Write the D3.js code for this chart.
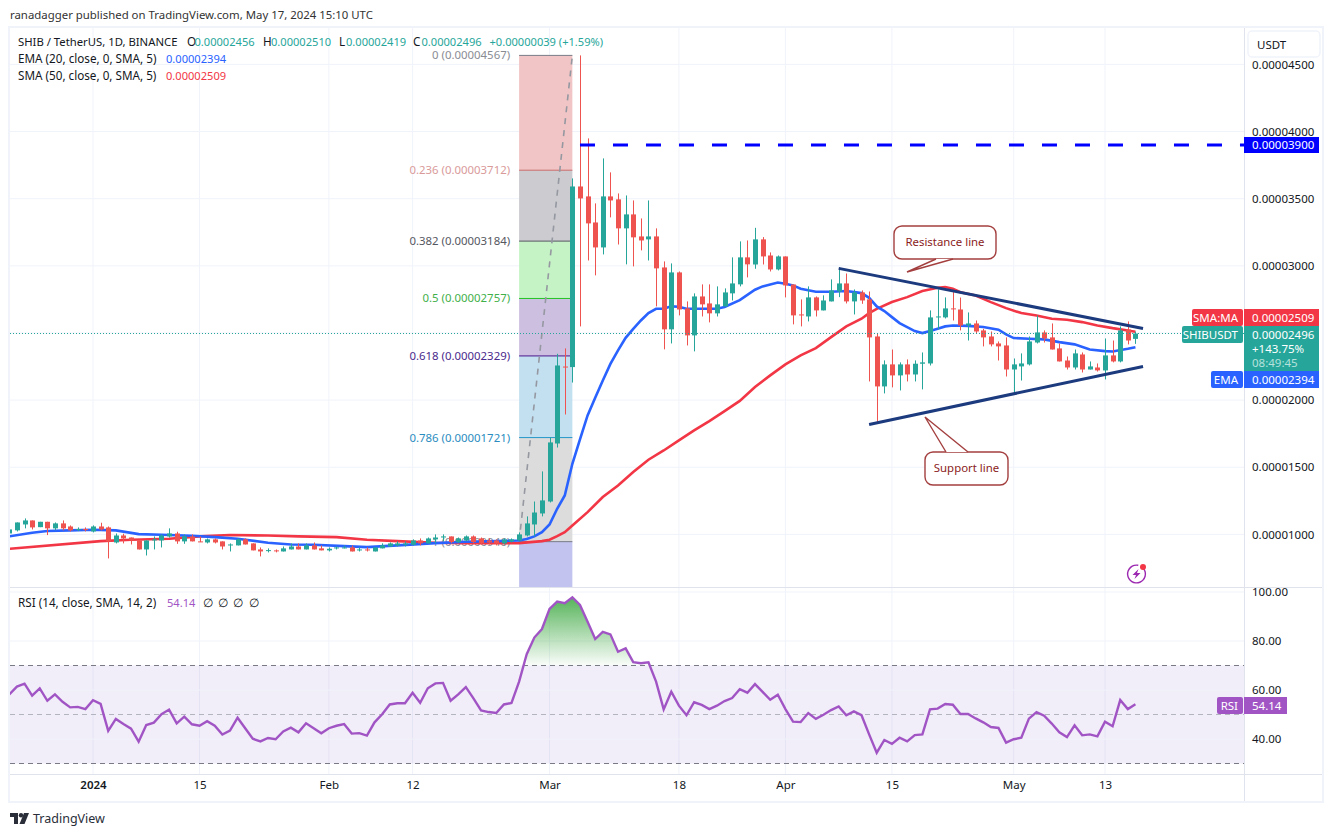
<!DOCTYPE html>
<html>
<head>
<meta charset="utf-8">
<title>SHIB / TetherUS</title>
<script src="https://cdn.jsdelivr.net/npm/d3@7.9.0/dist/d3.min.js"></script>
<style>
  html, body { margin: 0; padding: 0; background: #fff; }
  svg { display: block; }
  text { font-family: "Noto Sans", sans-serif; font-size: 11.4px; fill: #131722; }
</style>
</head>
<body>
<svg id="chart" width="1334" height="837"></svg>
<script>
// prices are in units of 0.00000001 USDT, one candle per day from 2023-12-21
const opens = [
  1007,1030,1074,1104,1054,1094,1045,1082,1059,1032,
  1040,1022,1059,1052,940,992,977,955,888,955,
  955,985,1007,948,985,948,940,963,948,918,
  918,963,933,888,876,881,873,888,910,888,
  918,896,881,896,896,903,881,888,873,896,
  910,918,923,923,955,933,963,977,985,943,
  955,985,970,955,955,933,948,955,992,1074,
  1156,1245,1677,2250,2246,3591,3517,3323,3137,3517,
  3495,3279,3383,3219,3197,3219,2988,2527,2951,2683,
  2482,2772,2720,2646,2698,2795,2862,3063,3010,3197,
  3077,2973,3070,2861,2638,2623,2765,2668,2735,2809,
  2869,2735,2802,2750,2474,2102,2266,2184,2266,2191,
  2271,2273,2616,2616,2683,2675,2556,2571,2519,2474,
  2422,2407,2228,2251,2266,2429,2504,2467,2385,2295,
  2243,2340,2228,2243,2221,2333,2288,2526,2456
];
const highs = [
  1042,1089,1119,1104,1094,1094,1089,1104,1067,1052,
  1052,1067,1087,1059,1007,1005,977,955,955,985,
  1000,1045,1020,1000,1000,985,970,970,948,933,
  970,970,933,903,896,888,910,933,933,933,
  940,918,903,910,918,918,903,903,903,933,
  940,948,948,963,970,977,1000,1000,985,977,
  992,992,977,970,963,970,970,1015,1134,1245,
  1469,1722,2345,2385,3651,4567,3949,3465,3800,3696,
  3539,3524,3487,3353,3487,3279,3033,3018,2958,2735,
  2795,2862,2862,2847,2832,3063,3182,3189,3283,3214,
  3100,3077,3070,2861,2750,2847,2772,2780,2899,2988,
  2943,2824,2817,2809,2494,2296,2377,2281,2303,2296,
  2355,2668,2824,2765,2804,2764,2653,2593,2531,2511,
  2437,2467,2310,2348,2474,2630,2519,2571,2422,2325,
  2377,2355,2288,2273,2459,2444,2549,2586,2510
];
const lows = [
  1005,1022,1045,1037,1054,995,1030,1030,1022,1025,
  1022,1015,1030,821,933,933,925,888,843,888,
  903,977,930,930,948,943,933,933,888,873,
  918,925,881,836,866,866,873,888,888,888,
  888,881,873,888,896,873,873,873,873,896,
  910,910,910,918,918,933,933,948,935,935,
  950,935,925,925,918,925,940,950,985,985,
  1134,1238,1647,1893,2131,2549,3040,2929,3085,3361,
  3159,3011,2996,3115,3040,2698,2378,2422,2631,2407,
  2363,2623,2579,2623,2698,2742,2847,2914,2978,3010,
  2958,2966,2765,2564,2549,2586,2623,2668,2735,2767,
  2720,2638,2717,2139,1829,2050,2095,2072,2139,2139,
  2080,2258,2526,2608,2593,2519,2444,2494,2400,2400,
  2295,2176,2047,2146,2258,2422,2429,2377,2288,2228,
  2228,2206,2228,2213,2154,2281,2281,2415,2419
];
const closes = [
  1037,1089,1104,1052,1094,1045,1082,1045,1030,1040,
  1032,1059,1037,948,992,970,955,888,955,963,
  992,1007,948,985,948,943,963,940,910,925,
  963,925,881,873,883,876,896,910,888,918,
  888,881,893,903,903,873,888,883,903,918,
  933,933,933,955,933,970,977,985,943,970,
  985,943,935,940,933,963,963,1000,1082,1163,
  1253,1685,2258,2243,3591,3502,3316,3137,3517,3487,
  3279,3383,3212,3189,3219,2981,2527,2951,2675,2482,
  2772,2713,2646,2713,2802,2869,3063,3011,3197,3070,
  2973,3070,2854,2631,2631,2765,2668,2742,2817,2869,
  2735,2802,2742,2467,2102,2266,2184,2266,2191,2271,
  2281,2616,2623,2683,2678,2556,2571,2511,2467,2415,
  2400,2228,2266,2273,2437,2504,2459,2377,2288,2243,
  2348,2228,2251,2221,2333,2288,2519,2444,2496
];
const rsiValues = [
  58.2,61.4,62.6,57.7,60.7,55.6,58.2,55.2,52.9,53.1,
  52.2,55.8,54.3,43.3,48.2,46.1,44.2,38.9,45.7,46.7,
  50.1,52,46.4,49.1,46,45.4,47.3,45.4,41.8,43.4,
  48.7,44.4,40.1,39,40.4,39.9,43.1,44.6,42.7,46.4,
  44.4,42.3,44.4,45.4,46.1,42.2,42.4,41.4,46.8,50.1,
  54.1,54.6,54.6,58.9,54.8,60.7,62.7,62.9,55.6,58.2,
  61.2,56.6,51.7,51,50.6,54.1,54.7,63.4,74.6,81.4,
  84.9,93.1,96.1,95.4,97.8,94.7,87.9,80.8,83.7,82.7,
  75.6,77,71.4,70.9,71.3,63.4,52.1,59.3,53.6,49.7,
  55,53.9,52.2,53.6,55.5,56.7,60.3,58.9,62.4,59.2,
  56,58.1,52.2,47.1,46.9,50.6,48.2,49.9,51.8,53.3,
  49.7,51.3,49.7,41.9,34.4,39.6,38,40.5,39,41.6,
  41.9,52.1,52.4,54.3,54,50.2,50.2,48.4,46.8,44.9,
  44.5,38.5,39.9,40.5,48.3,51,49.5,46.3,42.7,40.8,
  45.6,41.5,41.9,41.1,47.1,45.2,55.9,52.2,54.14
];

// moving averages, read at selected days (offset in days from 2024-01-01)
const emaDays = [-11,-8,-6,-3,0,3,6,9,13,16,19,23,26,29,33,36,40,45,49,53,56,57,58,59,60,61,62,63,64,65,66,67,68,69,70,71,72,73,74,75,76,77,78,79,82,83,85,87,88,90,91,92,93,95,97,99,101,102,103,104,105,106,107,108,109,110,111,112,113,115,117,119,120,121,123,125,127,129,131,133,134,136,137];
const emaValues = [985,1012,1025,1030,1035,1030,1002,997,990,980,968,938,925,923,913,905,918,935,945,950,955,965,985,1017,1074,1191,1290,1526,1707,1886,2017,2146,2270,2370,2464,2531,2593,2648,2680,2680,2698,2695,2680,2680,2680,2693,2745,2822,2847,2876,2866,2854,2829,2807,2807,2812,2797,2762,2698,2663,2618,2574,2544,2514,2499,2514,2531,2549,2556,2553,2544,2524,2489,2462,2457,2452,2432,2415,2377,2365,2362,2382,2394];
const smaDays = [-11,1,5,10,14,18,23,27,32,36,40,45,49,56,59,60,61,62,63,65,67,69,71,73,75,77,79,81,83,85,87,89,91,93,95,97,99,101,102,103,105,107,109,111,112,113,114,116,118,120,122,124,126,128,130,132,134,136,137];
const smaValues = [893,950,960,968,985,995,992,985,980,960,950,938,935,935,950,960,987,1017,1067,1166,1278,1364,1464,1556,1625,1700,1774,1844,1918,1994,2097,2184,2266,2333,2387,2469,2549,2606,2648,2680,2730,2767,2812,2837,2842,2829,2804,2779,2730,2685,2648,2630,2606,2598,2581,2556,2536,2519,2509];

// fib retracement drawn from the march low to the march high
const fibRatios = ['0', '0.236', '0.382', '0.5', '0.618', '0.786', '1'];
const fibPrices = [4567, 3712, 3184, 2757, 2329, 1721, 946];
const fibFills = ['#f1c5c5', '#cbcbd0', '#c5f3c5', '#cdbfe0', '#c3e0f0', '#dcdcdc', '#c2c3ef'];
const fibLines = ['#787b86', '#c96a6a', '#555861', '#22c322', '#4a148c', '#2196c8', '#787b86'];
const fibLabels = ['#8a8c94', '#d99a9a', '#55585f', '#3fb04a', '#4a2a8c', '#2a8cc0', '#8a8c94'];
const fibStart = '2024-02-26';
const fibEnd = '2024-03-04';

const priceTicks = [1000, 1500, 2000, 2500, 3000, 3500, 4000, 4500];
const rsiTicks = [100, 80, 60, 40];
const timeTicks = ['2024-01-01', '2024-01-15', '2024-02-01', '2024-02-12', '2024-03-01', '2024-03-18', '2024-04-01', '2024-04-15', '2024-05-01', '2024-05-13'];
const timeLabels = ['2024', '15', 'Feb', '12', 'Mar', '18', 'Apr', '15', 'May', '13'];

const resistanceLine = [['2024-04-08', 2981], ['2024-05-18', 2534]];
const supportLine = [['2024-04-12', 1819], ['2024-05-18', 2251]];
const resistanceLevel = 3900;
const lastClose = 2496;
const lastEma = 2394;
const lastSma = 2509;
const lastRsi = 54.14;

const parseDay = d3.utcParse('%Y-%m-%d');
const firstDay = parseDay('2024-01-01');
const candleDays = opens.map((_, i) => d3.utcDay.offset(firstDay, i - 11));
const fmtPrice = v => (v / 1e8).toFixed(8);

const UP = '#26a69a', DOWN = '#ef5350', BLUE = '#2962ff', RED = '#f23645', PURPLE = '#a155c5';
const GRID = '#f0f3fa', BORDER = '#e0e3eb';

const pane = { left: 10, right: 1244, top: 28, bottom: 587, rsiTop: 588, rsiBottom: 774, outerRight: 1323, outerBottom: 802 };

const x = d3.scaleUtc().domain([parseDay('2024-01-01'), parseDay('2024-05-13')]).range([93, 1105]);
const y = d3.scaleLinear().domain([1000, 4500]).range([534.4, 64.4]);
const yRsi = d3.scaleLinear().domain([100, 40]).range([592, 739]);

const svg = d3.select('#chart');

const defs = svg.append('defs');
defs.append('clipPath').attr('id', 'main-clip').append('rect')
  .attr('x', pane.left).attr('y', pane.top)
  .attr('width', pane.right - pane.left).attr('height', pane.bottom - pane.top);
defs.append('clipPath').attr('id', 'rsi-clip').append('rect')
  .attr('x', pane.left).attr('y', pane.rsiTop)
  .attr('width', pane.right - pane.left).attr('height', pane.rsiBottom - pane.rsiTop);
const grad = defs.append('linearGradient').attr('id', 'rsi-over')
  .attr('gradientUnits', 'userSpaceOnUse')
  .attr('x1', 0).attr('x2', 0).attr('y1', yRsi(98)).attr('y2', yRsi(70));
grad.append('stop').attr('offset', 0).attr('stop-color', '#4caf50').attr('stop-opacity', 0.95);
grad.append('stop').attr('offset', 1).attr('stop-color', '#4caf50').attr('stop-opacity', 0.03);

svg.append('text').attr('x', 10).attr('y', 19).style('fill', '#333').text('ranadagger published on TradingView.com, May 17, 2024 15:10 UTC');

// ---- grid ----
const grid = svg.append('g');
grid.selectAll('.vm').data(timeTicks).join('line')
  .attr('x1', d => x(parseDay(d))).attr('x2', d => x(parseDay(d)))
  .attr('y1', pane.top).attr('y2', pane.bottom).attr('stroke', GRID);
grid.selectAll('.vr').data(timeTicks).join('line')
  .attr('x1', d => x(parseDay(d))).attr('x2', d => x(parseDay(d)))
  .attr('y1', pane.rsiTop).attr('y2', pane.rsiBottom).attr('stroke', GRID);
grid.selectAll('.hm').data(priceTicks).join('line')
  .attr('x1', pane.left).attr('x2', pane.right)
  .attr('y1', d => y(d)).attr('y2', d => y(d)).attr('stroke', GRID);

// ---- main pane ----
const main = svg.append('g').attr('clip-path', 'url(#main-clip)');

// fib bands
const fibBands = fibPrices.map((p, i) => ({ top: y(p), bottom: i + 1 < fibPrices.length ? y(fibPrices[i + 1]) : pane.bottom, fill: fibFills[i] }));
const fx0 = x(parseDay(fibStart)), fx1 = x(parseDay(fibEnd));
main.selectAll('.fib').data(fibBands).join('rect')
  .attr('x', fx0).attr('width', fx1 - fx0)
  .attr('y', d => d.top).attr('height', d => d.bottom - d.top)
  .attr('fill', d => d.fill);
main.selectAll('.fibline').data(fibPrices).join('line')
  .attr('x1', fx0).attr('x2', fx1)
  .attr('y1', d => y(d)).attr('y2', d => y(d))
  .attr('stroke', (d, i) => fibLines[i]).attr('stroke-width', 1);
main.append('line')
  .attr('x1', fx0).attr('y1', y(fibPrices[6]))
  .attr('x2', fx1).attr('y2', y(fibPrices[0]))
  .attr('stroke', '#9598a1').attr('stroke-width', 1.6).attr('stroke-dasharray', '6 6');
main.selectAll('.fibtext').data(fibPrices).join('text')
  .attr('x', fx0 - 9).attr('y', d => y(d)).attr('dy', '0.35em')
  .attr('text-anchor', 'end')
  .style('fill', (d, i) => fibLabels[i])
  .text((d, i) => `${fibRatios[i]} (${fmtPrice(d)})`);

// moving averages
const dayLine = d3.line().x(d => x(d3.utcDay.offset(firstDay, d[0]))).y(d => y(d[1]));
main.append('path').attr('d', dayLine(d3.zip(smaDays, smaValues)))
  .attr('fill', 'none').attr('stroke', RED).attr('stroke-width', 2.6);
main.append('path').attr('d', dayLine(d3.zip(emaDays, emaValues)))
  .attr('fill', 'none').attr('stroke', BLUE).attr('stroke-width', 2.6);

// candles
const candles = candleDays.map((day, i) => ({ day, o: opens[i], h: highs[i], l: lows[i], c: closes[i] }));
const cg = main.append('g').selectAll('g').data(candles).join('g')
  .attr('fill', d => d.c >= d.o ? UP : DOWN);
cg.append('rect')
  .attr('x', d => Math.round(x(d.day))).attr('width', 1)
  .attr('y', d => y(d.h)).attr('height', d => y(d.l) - y(d.h));
cg.append('rect')
  .attr('x', d => Math.round(x(d.day)) - 2).attr('width', 5)
  .attr('y', d => y(Math.max(d.o, d.c)))
  .attr('height', d => Math.max(1, Math.abs(y(d.o) - y(d.c))));

// last price dotted line
main.append('line')
  .attr('x1', pane.left).attr('x2', pane.right)
  .attr('y1', y(lastClose)).attr('y2', y(lastClose))
  .attr('stroke', UP).attr('stroke-dasharray', '1 2');

// horizontal level
main.append('line')
  .attr('x1', x(parseDay('2024-03-05'))).attr('x2', pane.right)
  .attr('y1', y(resistanceLevel)).attr('y2', y(resistanceLevel))
  .attr('stroke', '#0000ff').attr('stroke-width', 3).attr('stroke-dasharray', '15 18');

// triangle
const isoLine = d3.line().x(d => x(parseDay(d[0]))).y(d => y(d[1]));
[resistanceLine, supportLine].forEach(l => {
  main.append('path').attr('d', isoLine(l))
    .attr('fill', 'none').attr('stroke', '#1c3a7e').attr('stroke-width', 3);
});

// callouts
function callout(text, bx, by, bw, bh, tail) {
  const g = svg.append('g');
  g.append('rect').attr('x', bx).attr('y', by).attr('width', bw).attr('height', bh)
    .attr('rx', 8).attr('fill', '#fff').attr('stroke', '#a43f3f').attr('stroke-width', 1.4);
  g.append('polygon').attr('points', tail.join(' ')).attr('fill', '#fff');
  g.append('polyline').attr('points', tail.join(' ')).attr('fill', 'none')
    .attr('stroke', '#a43f3f').attr('stroke-width', 1.4);
  g.append('text').attr('x', bx + bw / 2).attr('y', by + bh / 2).attr('dy', '0.35em')
    .attr('text-anchor', 'middle').style('fill', '#8a1c1c').text(text);
}
callout('Resistance line', 894, 226, 102, 33, [[936, 259], [907, 272], [953, 259]]);
callout('Support line', 925, 452, 83, 33, [[946, 452], [925, 417], [968, 452]]);

// lightning icon
const icon = svg.append('g').attr('transform', 'translate(1136.5,574)');
icon.append('path').attr('d', d3.arc()({ innerRadius: 8.2, outerRadius: 9.6, startAngle: 0.9, endAngle: Math.PI * 2 + 0.2 })).attr('fill', '#9c27b0');
icon.append('path').attr('d', 'M2,-5 L-4,1 L-0.5,1 L-2,5 L4,-1 L0.5,-1 Z').attr('fill', '#9c27b0');
icon.append('circle').attr('cx', 6.5).attr('cy', -7).attr('r', 3).attr('fill', RED);

// ---- RSI pane ----
const rsi = svg.append('g').attr('clip-path', 'url(#rsi-clip)');
rsi.append('rect')
  .attr('x', pane.left).attr('width', pane.right - pane.left)
  .attr('y', yRsi(70)).attr('height', yRsi(30) - yRsi(70))
  .attr('fill', '#7e57c2').attr('fill-opacity', 0.1);
rsi.selectAll('.hr').data(rsiTicks).join('line')
  .attr('x1', pane.left).attr('x2', pane.right)
  .attr('y1', d => yRsi(d)).attr('y2', d => yRsi(d)).attr('stroke', GRID);
rsi.selectAll('.band').data([70, 30]).join('line')
  .attr('x1', pane.left).attr('x2', pane.right)
  .attr('y1', d => yRsi(d)).attr('y2', d => yRsi(d))
  .attr('stroke', '#787b86').attr('stroke-dasharray', '5 4');
rsi.append('line')
  .attr('x1', pane.left).attr('x2', pane.right)
  .attr('y1', yRsi(50)).attr('y2', yRsi(50))
  .attr('stroke', '#b2b5be').attr('stroke-dasharray', '5 4');

const rsiRows = candleDays.map((day, i) => ({ day, v: rsiValues[i] }));
rsi.append('path')
  .attr('d', d3.area().defined(d => d.v >= 70).x(d => x(d.day)).y0(yRsi(70)).y1(d => yRsi(d.v))(rsiRows))
  .attr('fill', 'url(#rsi-over)');
rsi.append('path')
  .attr('d', d3.line().x(d => x(d.day)).y(d => yRsi(d.v))(rsiRows))
  .attr('fill', 'none').attr('stroke', PURPLE).attr('stroke-width', 2.4);

// ---- frame ----
const frame = svg.append('g').attr('fill', 'none');
frame.append('rect').attr('x', 9).attr('y', 27).attr('width', pane.outerRight - 9).attr('height', pane.outerBottom - 27)
  .attr('stroke', GRID).attr('stroke-width', 2);
frame.append('line').attr('x1', pane.left).attr('x2', pane.outerRight - 1).attr('y1', pane.bottom + 0.5).attr('y2', pane.bottom + 0.5).attr('stroke', BORDER);
frame.append('line').attr('x1', pane.left).attr('x2', pane.outerRight - 1).attr('y1', pane.rsiBottom + 0.5).attr('y2', pane.rsiBottom + 0.5).attr('stroke', BORDER);
frame.append('line').attr('x1', pane.right + 0.5).attr('x2', pane.right + 0.5).attr('y1', pane.top).attr('y2', pane.outerBottom - 1).attr('stroke', BORDER);

// ---- axes ----
const xAxis = svg.append('g').attr('transform', `translate(0,${pane.rsiBottom})`)
  .call(d3.axisBottom(x).tickValues(timeTicks.map(parseDay)).tickSize(0).tickPadding(7)
    .tickFormat((d, i) => timeLabels[i]));
xAxis.select('.domain').remove();
xAxis.selectAll('text').style('font-size', '11.5px').style('font-weight', (d, i) => i === 0 ? 600 : 400);

const yAxis = svg.append('g').attr('transform', `translate(${pane.right},0)`)
  .call(d3.axisRight(y).tickValues(priceTicks.filter(d => d !== 2500)).tickSize(0).tickPadding(8).tickFormat(fmtPrice));
yAxis.select('.domain').remove();
yAxis.selectAll('text').style('font-size', '11.5px');

const rsiAxis = svg.append('g').attr('transform', `translate(${pane.right},0)`)
  .call(d3.axisRight(yRsi).tickValues(rsiTicks).tickSize(0).tickPadding(8).tickFormat(d3.format('.2f')));
rsiAxis.select('.domain').remove();
rsiAxis.selectAll('text').style('font-size', '11.5px');

// USDT box
svg.append('rect').attr('x', 1248).attr('y', 31).attr('width', 72).attr('height', 26).attr('rx', 4)
  .attr('fill', '#fff').attr('stroke', GRID).attr('stroke-width', 1.5);
svg.append('text').attr('x', 1257).attr('y', 45).attr('dy', '0.35em').style('font-size', '11.5px').text('USDT');

// value tags on the axis
function tag(bx, by, bw, bh, fill, txt, tx, ty, color, anchor) {
  const r = svg.append('rect').attr('x', bx).attr('y', by).attr('width', bw).attr('height', bh).attr('fill', fill);
  if (bx < pane.right) r.attr('rx', 2);
  if (txt) svg.append('text').attr('x', tx).attr('y', ty).attr('dy', '0.35em')
    .attr('text-anchor', anchor || 'start')
    .style('font-size', '11.5px').style('fill', color || '#fff').text(txt);
}
tag(1244, 137, 75, 16, '#0000ff', fmtPrice(resistanceLevel), 1252, 145);

tag(1192, 309, 51, 17, RED, 'SMA:MA', 1238, 317.5, '#fff', 'end');
tag(1244, 309, 75, 17, RED, fmtPrice(lastSma), 1252, 317.5);
tag(1182, 326, 61, 17, UP, 'SHIBUSDT', 1238, 334.5, '#fff', 'end');
tag(1244, 326, 75, 45, UP, fmtPrice(lastClose), 1252, 335);
svg.append('text').attr('x', 1252).attr('y', 349).attr('dy', '0.35em').style('font-size', '11.5px').style('fill', '#fff').text('+143.75%');
svg.append('text').attr('x', 1252).attr('y', 363).attr('dy', '0.35em').style('font-size', '11.5px').style('fill', '#b6e1dc').text('08:49:45');
tag(1211, 371, 32, 17, BLUE, 'EMA', 1238, 379.5, '#fff', 'end');
tag(1244, 371, 75, 17, BLUE, fmtPrice(lastEma), 1252, 379.5);

tag(1217, 697, 26, 17, PURPLE, 'RSI', 1238, 705.5, '#fff', 'end');
tag(1244, 697, 43, 17, PURPLE, lastRsi.toFixed(2), 1252, 705.5);

// ---- legends ----
function legendRow(yPos, parts) {
  parts.forEach(([tx, txt, color, size]) => {
    svg.append('text').attr('x', tx).attr('y', yPos).attr('dy', '0.35em')
      .style('font-size', size || (color ? '11.1px' : '11.7px'))
      .style('fill', color || '#131722').text(txt);
  });
}
legendRow(42, [
  [18, 'SHIB / TetherUS, 1D, BINANCE', null, '11.3px'],
  [187, 'O'], [194.5, fmtPrice(opens[148]), UP],
  [263, 'H'], [271, fmtPrice(highs[148]), UP],
  [339, 'L'], [346, fmtPrice(lows[148]), UP],
  [413, 'C'], [421.5, fmtPrice(closes[148]), UP],
  [489.5, '+0.00000039 (+1.59%)', UP]
]);
legendRow(59, [[18, 'EMA (20, close, 0, SMA, 5)'], [166, fmtPrice(lastEma), BLUE]]);
legendRow(76, [[18, 'SMA (50, close, 0, SMA, 5)'], [166, fmtPrice(lastSma), RED]]);
legendRow(603, [
  [18, 'RSI (14, close, SMA, 14, 2)'], [167, lastRsi.toFixed(2), PURPLE],
  [203, '∅'], [218, '∅'], [233, '∅'], [249, '∅']
]);

// ---- footer logo ----
const logo = svg.append('g').attr('transform', 'translate(10,813)').attr('fill', '#2a2e39');
logo.append('path').attr('d', 'M0,0 H8 V11 H4 V4 H0 Z');
logo.append('circle').attr('cx', 11).attr('cy', 2.2).attr('r', 2.2);
logo.append('path').attr('d', 'M14,0 H19 L14.5,11 H9.5 Z');
svg.append('text').attr('x', 33).attr('y', 819).attr('dy', '0.35em')
  .style('font-size', '12.5px').style('fill', '#2a2e39').text('TradingView');
</script>
</body>
</html>
